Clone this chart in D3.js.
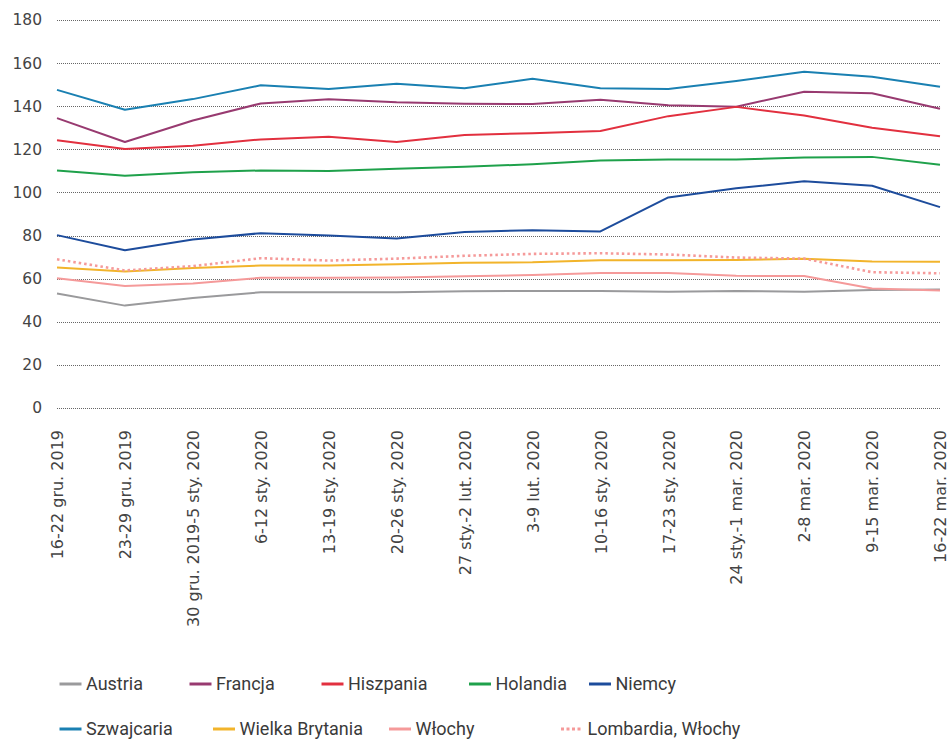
<!DOCTYPE html>
<html>
<head>
<meta charset="utf-8">
<script src="https://cdn.jsdelivr.net/npm/d3@7"></script>
<style>
  html, body { margin: 0; padding: 0; background: #fff; }
  svg { display: block; }
</style>
</head>
<body>
<svg id="chart" width="951" height="740"></svg>
<script>
// Weekly periods on the x axis
const weeks = [
  "16-22 gru. 2019", "23-29 gru. 2019", "30 gru. 2019-5 sty. 2020", "6-12 sty. 2020",
  "13-19 sty. 2020", "20-26 sty. 2020", "27 sty.-2 lut. 2020", "3-9 lut. 2020",
  "10-16 sty. 2020", "17-23 sty. 2020", "24 sty.-1 mar. 2020", "2-8 mar. 2020",
  "9-15 mar. 2020", "16-22 mar. 2020"
];

const yTicks = [0, 20, 40, 60, 80, 100, 120, 140, 160, 180];

const austria      = [53.1, 47.5, 51.0, 53.7, 53.7, 53.7, 54.2, 54.3, 54.3, 53.9, 54.3, 53.9, 54.8, 55.0];
const francja      = [134.5, 123.4, 133.4, 141.3, 143.2, 141.8, 141.1, 141.0, 143.0, 140.4, 139.8, 146.7, 146.0, 138.8];
const hiszpania    = [124.2, 120.2, 121.7, 124.6, 125.8, 123.4, 126.6, 127.5, 128.5, 135.4, 139.7, 135.7, 130.0, 126.1];
const holandia     = [110.2, 107.7, 109.4, 110.2, 109.9, 111.0, 111.9, 113.1, 114.8, 115.3, 115.3, 116.2, 116.5, 112.8];
const niemcy       = [80.2, 73.2, 78.2, 81.1, 80.0, 78.6, 81.6, 82.5, 81.9, 97.7, 101.9, 105.2, 103.1, 93.2];
const szwajcaria   = [147.6, 138.4, 143.3, 149.7, 148.0, 150.4, 148.3, 152.7, 148.3, 148.0, 151.7, 156.0, 153.7, 149.0];
const wielkaBryt   = [65.2, 63.3, 64.9, 66.1, 66.1, 66.7, 67.4, 67.6, 68.6, 68.6, 68.7, 69.2, 68.0, 67.8];
const wlochy       = [60.2, 56.6, 57.8, 60.4, 60.4, 60.5, 61.1, 61.7, 62.6, 62.6, 61.3, 61.2, 55.4, 54.5];
const lombardia    = [69.0, 63.8, 65.8, 69.5, 68.4, 69.3, 70.6, 71.5, 71.8, 71.2, 69.8, 69.3, 63.0, 62.5];

const series = [
  { name: "Austria",          values: austria,    color: "#9a9a9c", dotted: false },
  { name: "Francja",          values: francja,    color: "#983a70", dotted: false },
  { name: "Hiszpania",        values: hiszpania,  color: "#e2303f", dotted: false },
  { name: "Holandia",         values: holandia,   color: "#1fa14b", dotted: false },
  { name: "Niemcy",           values: niemcy,     color: "#1d4c9c", dotted: false },
  { name: "Szwajcaria",       values: szwajcaria, color: "#1a80b2", dotted: false },
  { name: "Wielka Brytania",  values: wielkaBryt, color: "#f2b42b", dotted: false },
  { name: "Włochy",           values: wlochy,     color: "#f59a9a", dotted: false },
  { name: "Lombardia, Włochy",values: lombardia,  color: "#f59a9a", dotted: true }
];

const svg = d3.select("#chart");
const plotLeft = 57, plotRight = 940, plotTop = 20, plotBottom = 408;

const x = d3.scalePoint().domain(weeks).range([plotLeft, plotRight]);
const y = d3.scaleLinear().domain([0, 180]).range([plotBottom, plotTop]);

// Horizontal dotted gridlines with value labels
const yAxis = d3.axisLeft(y).tickValues(yTicks).tickSize(-(plotRight - plotLeft)).tickFormat(d3.format("d"));
const gy = svg.append("g").attr("transform", `translate(${plotLeft},0)`).call(yAxis);
gy.select(".domain").remove();
gy.selectAll(".tick line")
  .attr("stroke", "#666")
  .attr("stroke-width", 1)
  .attr("stroke-dasharray", "1,1")
  .attr("shape-rendering", "crispEdges");
gy.selectAll(".tick text")
  .attr("x", -15)
  .attr("fill", "#444")
  .style("font-family", "'DejaVu Sans', sans-serif")
  .style("font-size", "15.5px");

// Rotated week labels
const xAxis = d3.axisBottom(x).tickSize(0);
const gx = svg.append("g").attr("transform", `translate(0,${plotBottom})`).call(xAxis);
gx.select(".domain").remove();
gx.selectAll(".tick text")
  .attr("transform", "rotate(-90)")
  .attr("x", -22)
  .attr("y", 0)
  .attr("dy", "0.36em")
  .attr("text-anchor", "end")
  .attr("fill", "#444")
  .style("font-family", "'DejaVu Sans', sans-serif")
  .style("font-size", "16px");

// Series lines
const line = d3.line().x((d, i) => x(weeks[i])).y(d => y(d));
svg.append("g").selectAll("path")
  .data(series)
  .join("path")
  .attr("d", d => line(d.values))
  .attr("fill", "none")
  .attr("stroke", d => d.color)
  .attr("stroke-width", d => d.dotted ? 2.6 : 2)
  .attr("stroke-dasharray", d => d.dotted ? "2.5,3" : null)
  .attr("stroke-linejoin", "round");

// Legend in two rows
const legendPos = [
  [59.5, 684], [189.5, 684], [321.5, 684], [469, 684], [589, 684],
  [59.5, 729], [213, 729], [389, 729], [561, 729]
];
const lg = svg.append("g").selectAll("g")
  .data(series)
  .join("g")
  .attr("transform", (d, i) => `translate(${legendPos[i][0]},${legendPos[i][1]})`);
lg.append("line")
  .attr("x1", 0).attr("x2", 22).attr("y1", 0).attr("y2", 0)
  .attr("stroke", d => d.color)
  .attr("stroke-width", 3)
  .attr("stroke-dasharray", d => d.dotted ? "3,2.5" : null);
lg.append("text")
  .attr("x", 26.5).attr("y", 0).attr("dy", "0.35em")
  .attr("fill", "#3a3a3a")
  .style("font-family", "Roboto, sans-serif")
  .style("font-size", "18px")
  .text(d => d.name);
</script>
</body>
</html>
